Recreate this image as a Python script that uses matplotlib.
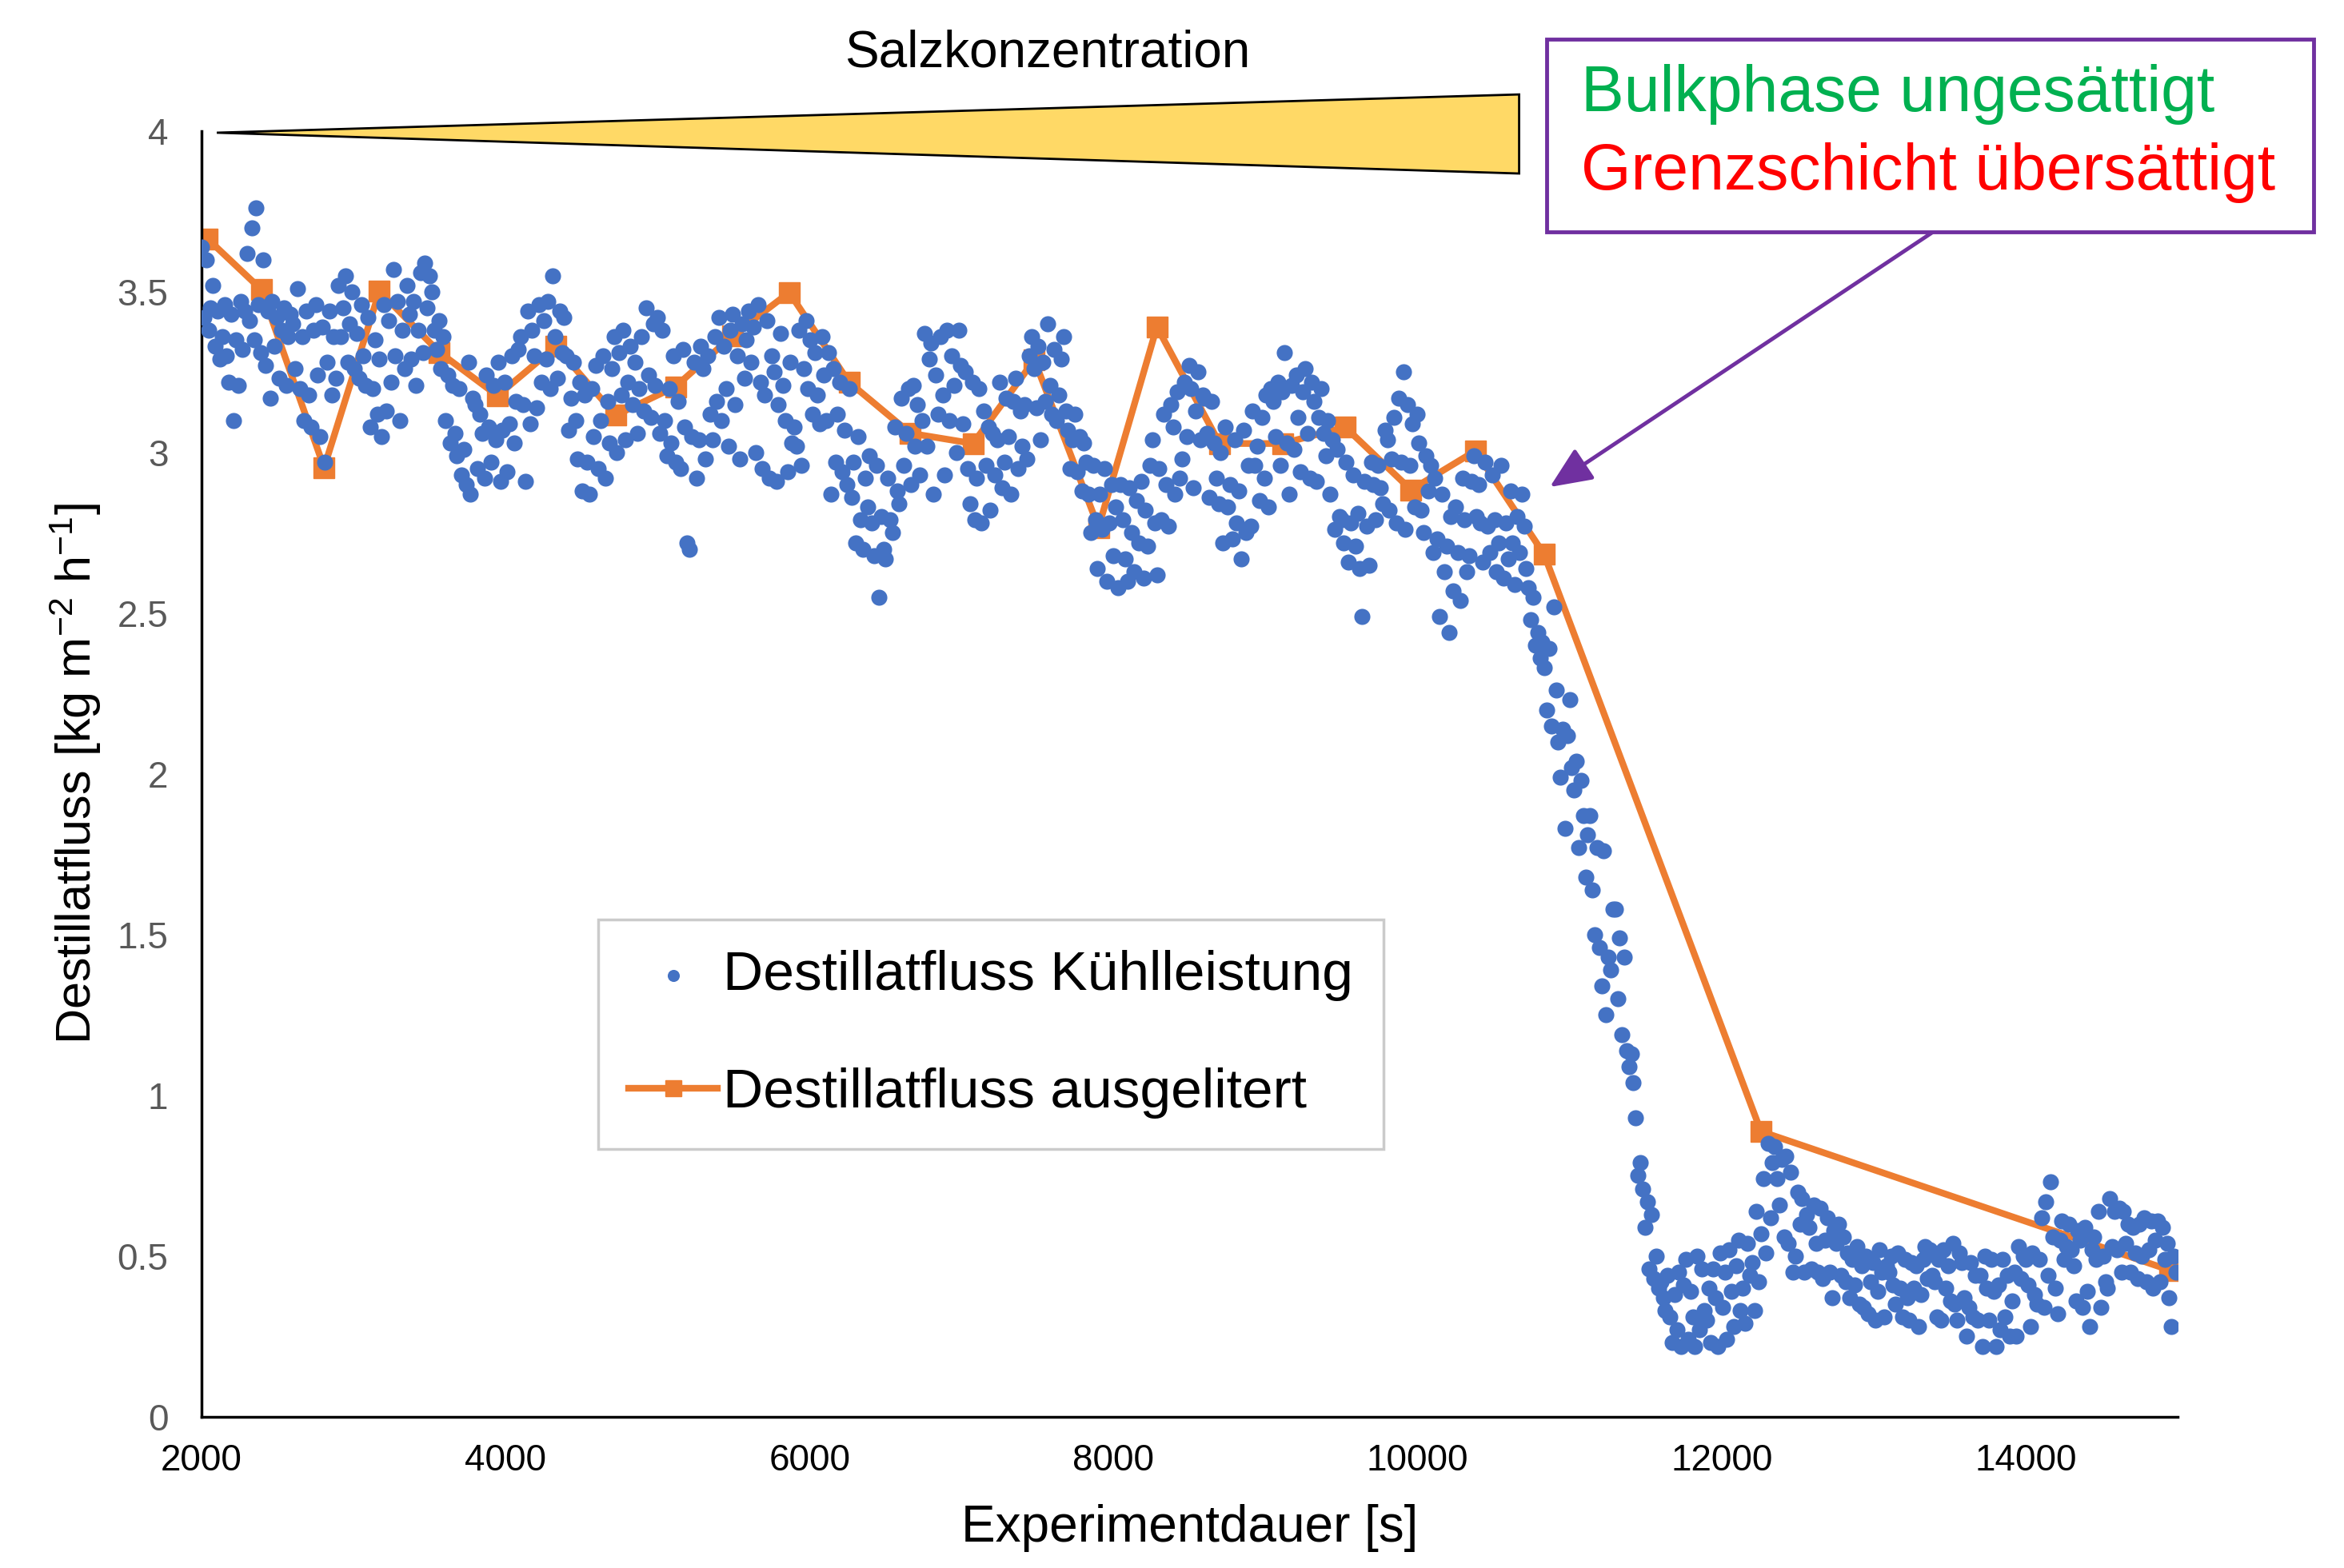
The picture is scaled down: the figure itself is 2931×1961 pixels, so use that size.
import numpy as np
import matplotlib
matplotlib.use("Agg")
import matplotlib.pyplot as plt
from matplotlib.patches import Polygon, Rectangle

plt.rcParams['font.family'] = ['Liberation Sans', 'DejaVu Sans']
plt.rcParams['mathtext.fontset'] = 'custom'
plt.rcParams['mathtext.rm'] = 'Liberation Sans'
plt.rcParams['mathtext.default'] = 'regular'

# -----------------------------
# data
# -----------------------------
# Destillatfluss from cooling power, one value every 15 s starting at 2000 s
t_start = 2000
t_step = 15
flux_kuehl = [
    # 2000 - 2285
    3.64, 3.42, 3.60, 3.38, 3.45, 3.52, 3.33, 3.44, 3.29, 3.36, 3.46, 3.30, 3.22, 3.43, 3.10, 3.35, 3.21, 3.47, 3.32, 3.44,
    # 2300 - 2585
    3.62, 3.41, 3.70, 3.35, 3.76, 3.46, 3.31, 3.60, 3.27, 3.44, 3.17, 3.47, 3.33, 3.42, 3.23, 3.38, 3.45, 3.21, 3.36, 3.43,
    # 2600 - 2885
    3.40, 3.26, 3.51, 3.20, 3.36, 3.10, 3.44, 3.18, 3.08, 3.38, 3.46, 3.24, 3.05, 3.39, 2.97, 3.28, 3.44, 3.18, 3.36, 3.23,
    # 2900 - 3185
    3.52, 3.36, 3.45, 3.55, 3.28, 3.40, 3.50, 3.26, 3.37, 3.23, 3.46, 3.30, 3.21, 3.42, 3.08, 3.20, 3.35, 3.12, 3.29, 3.05,
    # 3200 - 3485
    3.46, 3.13, 3.41, 3.22, 3.57, 3.30, 3.47, 3.10, 3.38, 3.26, 3.52, 3.43, 3.29, 3.47, 3.21, 3.38, 3.56, 3.31, 3.59, 3.45,
    # 3500 - 3785
    3.55, 3.50, 3.38, 3.32, 3.41, 3.26, 3.36, 3.10, 3.24, 3.03, 3.21, 3.06, 2.99, 3.20, 2.93, 3.01, 2.90, 3.28, 2.87, 3.17,
    # 3800 - 4085
    3.15, 2.95, 3.12, 3.06, 2.92, 3.24, 3.08, 2.97, 3.21, 3.04, 3.28, 2.91, 3.07, 3.22, 2.94, 3.09, 3.30, 3.03, 3.16, 3.32,
    # 4100 - 4385
    3.36, 3.15, 2.91, 3.44, 3.09, 3.38, 3.30, 3.14, 3.46, 3.22, 3.41, 3.29, 3.47, 3.20, 3.55, 3.36, 3.23, 3.44, 3.31, 3.42,
    # 4400 - 4685
    3.30, 3.07, 3.17, 3.28, 3.10, 2.98, 3.22, 2.88, 3.18, 2.97, 2.87, 3.20, 3.05, 3.27, 2.95, 3.10, 3.30, 2.92, 3.16, 3.03,
    # 4700 - 4985
    3.26, 3.36, 3.00, 3.31, 3.18, 3.38, 3.04, 3.22, 3.33, 3.15, 3.28, 3.06, 3.20, 3.36, 3.13, 3.45, 3.24, 3.11, 3.40, 3.21,
    # 5000 - 5285
    3.42, 3.06, 3.38, 3.10, 2.99, 3.20, 3.03, 3.30, 2.97, 3.16, 2.95, 3.32, 3.08, 2.72, 2.70, 3.05, 3.28, 2.92, 3.04, 3.33,
    # 5300 - 5585
    3.26, 2.98, 3.30, 3.12, 3.04, 3.36, 3.16, 3.42, 3.10, 3.33, 3.20, 3.02, 3.38, 3.43, 3.15, 3.30, 2.98, 3.40, 3.23, 3.35,
    # 5600 - 5885
    3.44, 3.28, 3.39, 3.00, 3.46, 3.22, 2.95, 3.18, 3.41, 2.92, 3.30, 3.25, 2.91, 3.15, 3.37, 3.21, 3.10, 2.94, 3.28, 3.03,
    # 5900 - 6185
    3.08, 3.02, 3.38, 2.96, 3.26, 3.41, 3.20, 3.35, 3.12, 3.31, 3.18, 3.09, 3.36, 3.24, 3.10, 3.31, 2.87, 3.26, 2.97, 3.12,
    # 6200 - 6485
    3.22, 2.94, 3.07, 2.90, 3.20, 2.86, 2.97, 2.72, 3.05, 2.79, 2.70, 2.92, 2.83, 2.99, 2.78, 2.68, 2.96, 2.55, 2.80, 2.70,
    # 6500 - 6785
    2.67, 2.92, 2.79, 2.75, 3.08, 2.88, 2.84, 3.17, 2.96, 3.06, 3.20, 2.90, 3.21, 3.02, 3.15, 2.93, 3.10, 3.37, 3.02, 3.29,
    # 6800 - 7085
    3.34, 2.87, 3.24, 3.12, 3.36, 3.18, 2.93, 3.38, 3.10, 3.30, 3.21, 3.00, 3.38, 3.27, 3.09, 3.25, 2.95, 2.84, 3.22, 2.79,
    # 7100 - 7385
    2.92, 3.20, 2.78, 3.13, 2.96, 3.08, 2.82, 3.06, 2.93, 3.04, 3.22, 2.89, 2.97, 3.17, 3.05, 2.87, 3.16, 3.23, 2.95, 3.13,
    # 7400 - 7685
    3.02, 3.15, 2.98, 3.30, 3.36, 3.26, 3.14, 3.33, 3.04, 3.28, 3.16, 3.40, 3.21, 3.12, 3.32, 3.10, 3.18, 3.29, 3.36, 3.13,
    # 7700 - 7985
    3.07, 2.95, 3.04, 3.12, 2.94, 3.05, 2.88, 3.03, 2.97, 2.87, 2.75, 2.96, 2.79, 2.64, 2.87, 2.76, 2.95, 2.60, 2.78, 2.90,
    # 8000 - 8285
    2.68, 2.83, 2.58, 2.90, 2.79, 2.67, 2.60, 2.89, 2.75, 2.63, 2.85, 2.72, 2.91, 2.61, 2.82, 2.71, 2.96, 3.04, 2.78, 2.62,
    # 8300 - 8585
    2.95, 2.79, 3.12, 2.90, 2.77, 3.15, 3.08, 2.87, 3.19, 2.92, 2.98, 3.22, 3.05, 3.27, 3.20, 2.89, 3.13, 3.25, 3.04, 3.18,
    # 8600 - 8885
    3.17, 3.06, 2.86, 3.16, 3.03, 2.92, 2.84, 3.00, 2.72, 3.08, 2.83, 2.90, 2.73, 3.04, 2.78, 2.88, 2.67, 3.07, 2.75, 2.96,
    # 8900 - 9185
    2.77, 3.13, 2.96, 3.02, 2.85, 3.11, 2.92, 3.18, 2.83, 3.20, 3.16, 3.05, 3.22, 2.96, 3.19, 3.31, 3.03, 2.87, 3.21, 3.01,
    # 9200 - 9485
    3.24, 3.11, 2.94, 3.19, 3.26, 3.06, 2.92, 3.22, 3.16, 2.91, 3.11, 3.20, 3.06, 2.99, 3.10, 2.87, 3.04, 2.76, 3.01, 2.80,
    # 9500 - 9785
    2.79, 2.72, 2.97, 2.66, 2.78, 2.93, 2.71, 2.81, 2.64, 2.49, 2.91, 2.77, 2.65, 2.97, 2.90, 2.79, 2.96, 2.89, 2.84, 3.07,
    # 9800 - 10085
    3.04, 2.82, 2.98, 3.11, 2.78, 3.17, 2.97, 3.25, 2.76, 3.15, 2.96, 3.09, 2.83, 3.12, 3.03, 2.82, 2.75, 2.99, 2.88, 2.96,
    # 10100 - 10385
    2.69, 2.92, 2.73, 2.49, 2.87, 2.63, 2.71, 2.44, 2.80, 2.57, 2.83, 2.69, 2.54, 2.92, 2.79, 2.63, 2.68, 2.91, 2.99, 2.80,
    # 10400 - 10685
    2.90, 2.78, 2.66, 2.97, 2.77, 2.69, 2.93, 2.79, 2.63, 2.72, 2.96, 2.61, 2.78, 2.67, 2.88, 2.72, 2.59, 2.80, 2.69, 2.87,
    # 10700 - 10985
    2.77, 2.64, 2.58, 2.48, 2.55, 2.40, 2.44, 2.36, 2.41, 2.33, 2.20, 2.39, 2.15, 2.52, 2.26, 2.10, 1.99, 2.14, 1.83, 2.12,
    # 11000 - 11285
    2.23, 2.02, 1.95, 2.04, 1.77, 1.98, 1.87, 1.68, 1.81, 1.87, 1.64, 1.50, 1.77, 1.46, 1.34, 1.76, 1.25, 1.43, 1.39, 1.58,
    # 11300 - 11585
    1.58, 1.30, 1.49, 1.19, 1.43, 1.14, 1.09, 1.13, 1.04, 0.93, 0.75, 0.79, 0.71, 0.59, 0.67, 0.46, 0.63, 0.43, 0.50, 0.40,
    # 11600 - 11885
    0.42, 0.37, 0.33, 0.44, 0.31, 0.23, 0.38, 0.27, 0.45, 0.22, 0.41, 0.49, 0.24, 0.39, 0.31, 0.22, 0.50, 0.27, 0.46, 0.33,
    # 11900 - 12185
    0.30, 0.40, 0.23, 0.46, 0.37, 0.22, 0.51, 0.34, 0.45, 0.24, 0.52, 0.39, 0.28, 0.47, 0.55, 0.33, 0.40, 0.29, 0.54, 0.44,
    # 12200 - 12485
    0.48, 0.33, 0.64, 0.42, 0.57, 0.74, 0.51, 0.85, 0.62, 0.79, 0.84, 0.74, 0.66, 0.80, 0.56, 0.81, 0.54, 0.76, 0.45, 0.50,
    # 12500 - 12785
    0.70, 0.60, 0.68, 0.45, 0.63, 0.59, 0.46, 0.66, 0.54, 0.45, 0.65, 0.43, 0.55, 0.62, 0.45, 0.37, 0.58, 0.54, 0.60, 0.44,
    # 12800 - 13085
    0.56, 0.42, 0.51, 0.37, 0.49, 0.41, 0.53, 0.35, 0.47, 0.34, 0.50, 0.32, 0.42, 0.48, 0.30, 0.39, 0.52, 0.45, 0.31, 0.47,
    # 13100 - 13385
    0.45, 0.50, 0.41, 0.35, 0.51, 0.40, 0.31, 0.49, 0.37, 0.30, 0.48, 0.40, 0.47, 0.28, 0.38, 0.49, 0.53, 0.43, 0.52, 0.44,
    # 13400 - 13685
    0.42, 0.31, 0.49, 0.30, 0.52, 0.40, 0.47, 0.36, 0.54, 0.35, 0.30, 0.51, 0.48, 0.37, 0.25, 0.34, 0.48, 0.31, 0.44, 0.30,
    # 13700 - 13985
    0.44, 0.22, 0.50, 0.40, 0.30, 0.49, 0.39, 0.22, 0.41, 0.27, 0.49, 0.31, 0.44, 0.25, 0.36, 0.45, 0.25, 0.53, 0.43, 0.50,
    # 14000 - 14285
    0.49, 0.41, 0.28, 0.51, 0.38, 0.35, 0.49, 0.62, 0.34, 0.67, 0.44, 0.73, 0.56, 0.40, 0.32, 0.55, 0.61, 0.49, 0.53, 0.60,
    # 14300 - 14585
    0.52, 0.47, 0.36, 0.58, 0.55, 0.34, 0.59, 0.39, 0.28, 0.52, 0.56, 0.49, 0.64, 0.34, 0.50, 0.42, 0.40, 0.68, 0.53, 0.64,
    # 14600 - 14885
    0.52, 0.65, 0.45, 0.64, 0.54, 0.60, 0.45, 0.59, 0.51, 0.43, 0.60, 0.50, 0.62, 0.42, 0.52, 0.61, 0.40, 0.55, 0.61, 0.42,
    # 14900 - 14990
    0.59, 0.49, 0.54, 0.37, 0.28, 0.50, 0.45,
]
t_kuehl = t_start + t_step * np.arange(len(flux_kuehl))

# Destillatfluss from collected distillate (litres)
t_liter = [2039, 2393, 2806, 3170, 3564, 3947, 4331, 4724, 5118, 5492, 5866, 6259, 6662,
           7075, 7479, 7901, 8285, 8698, 9111, 9524, 9957, 10380, 10832, 12259, 14950]
flux_liter = [3.665, 3.507, 2.953, 3.502, 3.312, 3.177, 3.330, 3.116, 3.205, 3.363, 3.498, 3.219, 3.060,
              3.028, 3.288, 2.767, 3.391, 3.028, 3.028, 3.079, 2.884, 3.005, 2.684, 0.888, 0.456]

x_ticks = [2000, 4000, 6000, 8000, 10000, 12000, 14000]
y_ticks = [0, 0.5, 1, 1.5, 2, 2.5, 3, 3.5, 4]

# wedge "Salzkonzentration" (tip, upper right, lower right) in data units
wedge_t = [2100, 10668, 10668]
wedge_y = [3.995, 4.114, 3.868]

# -----------------------------
# plot
# -----------------------------
fig = plt.figure(figsize=(29.31, 19.61), dpi=100)
ax = fig.add_axes([0.086, 0.0964, 0.843, 0.82])

line, = ax.plot(t_liter, flux_liter, color='#ED7D31', lw=6, marker='s', ms=19,
                zorder=2, label='Destillatfluss ausgelitert')
sc = ax.scatter(t_kuehl, flux_kuehl, s=210, color='#4472C4', lw=0, zorder=3,
                label='Destillatfluss Kühlleistung')

ax.set_xlim(2000, 15000)
ax.set_ylim(0, 4)
ax.set_xticks(x_ticks)
ax.set_yticks(y_ticks)
ax.set_yticklabels([f"{v:g}" for v in y_ticks])

for side in ['top', 'right']:
    ax.spines[side].set_visible(False)
for side in ['left', 'bottom']:
    ax.spines[side].set_color('black')
    ax.spines[side].set_linewidth(2.5)

ax.tick_params(axis='both', length=0, labelsize=33)
ax.tick_params(axis='y', pad=30, labelcolor='#595959')
ax.tick_params(axis='x', pad=24, labelcolor='black')

ax.set_xlabel('Experimentdauer [s]', fontsize=46)
ax.xaxis.set_label_coords(0.5, -0.068)
ax.set_ylabel(r'Destillatfluss [kg m$^{-2}$ h$^{-1}$]', fontsize=44)
ax.yaxis.set_label_coords(-0.05, 0.5)

leg = ax.legend(handles=[sc, line], loc='upper left', bbox_to_anchor=(0.2007, 0.387),
                borderaxespad=0, fontsize=50, frameon=True, fancybox=False,
                borderpad=0.55, labelspacing=1.2, handlelength=1.6, handletextpad=0.1,
                scatterpoints=1, markerscale=0.75)
leg.get_frame().set_edgecolor('#BFBFBF')
leg.get_frame().set_linewidth(2.5)

# salt concentration wedge above the data
wedge = Polygon(list(zip(wedge_t, wedge_y)), closed=True, facecolor='#FFD966',
                edgecolor='black', lw=2, clip_on=False, zorder=4)
ax.add_patch(wedge)
fig.text(0.447, 0.966, 'Salzkonzentration', fontsize=46, ha='center', va='center')

# annotation box with arrow
box = Rectangle((0.660, 0.852), 0.327, 0.123, transform=fig.transFigure,
                facecolor='white', edgecolor='#7030A0', lw=3.5, zorder=5)
fig.add_artist(box)
fig.text(0.6745, 0.940, 'Bulkphase ungesättigt', color='#00B050', fontsize=58,
         va='center', zorder=6)
fig.text(0.6745, 0.890, 'Grenzschicht übersättigt', color='#FF0000', fontsize=58,
         va='center', zorder=6)
ax.annotate('', xy=(0.6612, 0.6894), xycoords='figure fraction',
            xytext=(0.8246, 0.852), textcoords='figure fraction',
            arrowprops=dict(arrowstyle='-|>,head_length=0.8,head_width=0.35',
                            color='#7030A0', lw=3.5, mutation_scale=40,
                            shrinkA=0, shrinkB=0))

fig.savefig('out.png', dpi=100)
print("[INFO] saved out.png")
